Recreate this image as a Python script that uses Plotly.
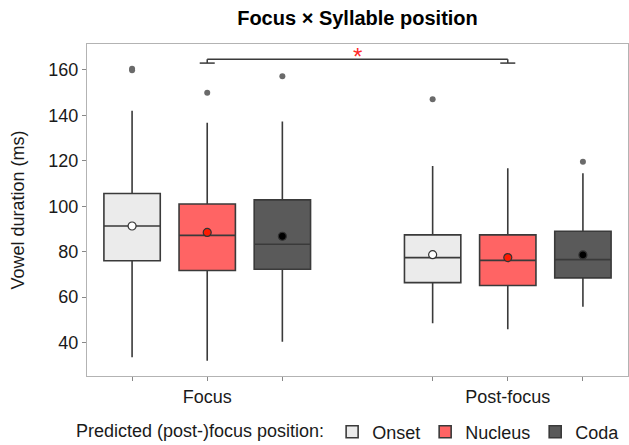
import plotly.graph_objects as go

# ---- data ----
categories = ["Focus", "Post-focus"]
series = ["Onset", "Nucleus", "Coda"]

q1 = {"Onset": [76.0, 66.4], "Nucleus": [71.7, 65.1], "Coda": [72.3, 68.5]}
median = {"Onset": [91.3, 77.4], "Nucleus": [87.2, 76.2], "Coda": [83.3, 76.5]}
q3 = {"Onset": [105.6, 87.4], "Nucleus": [101.0, 87.4], "Coda": [102.8, 89.0]}
lower = {"Onset": [33.5, 48.5], "Nucleus": [32.0, 45.9], "Coda": [40.4, 55.8]}
upper = {"Onset": [142.0, 117.7], "Nucleus": [136.8, 116.7], "Coda": [137.3, 114.5]}
means = {"Onset": [91.3, 78.7], "Nucleus": [88.5, 77.4], "Coda": [86.8, 78.6]}

outlier_x = {"Onset": ["Focus", "Focus", "Post-focus"], "Nucleus": ["Focus"], "Coda": ["Focus", "Post-focus"]}
outlier_y = {"Onset": [160.5, 159.8, 147.1], "Nucleus": [150.0], "Coda": [157.2, 119.6]}

box_fill = {"Onset": "#ebebeb", "Nucleus": "#ff6464", "Coda": "#5a5a5a"}
mean_fill = {"Onset": "#ffffff", "Nucleus": "#ff1a00", "Coda": "#000000"}

sig_y = 164.7
sig_tip = 163.0
sig_label = "*"

FONT = "Liberation Sans, Arial, sans-serif"

fig = go.Figure()

for s in series:
    fig.add_trace(go.Box(
        name=s, x=categories, q1=q1[s], median=median[s], q3=q3[s],
        lowerfence=lower[s], upperfence=upper[s],
        fillcolor=box_fill[s], line=dict(color="#3a3a3a", width=1.6),
        whiskerwidth=0, boxpoints=False, offsetgroup=s,
        legendgroup=s, showlegend=True,
    ))

for s in series:
    fig.add_trace(go.Scatter(
        x=outlier_x[s], y=outlier_y[s], mode="markers", offsetgroup=s,
        marker=dict(color="#6a6a6a", size=6), showlegend=False, legendgroup=s,
        hoverinfo="skip",
    ))
    fig.add_trace(go.Scatter(
        x=categories, y=means[s], mode="markers", offsetgroup=s,
        marker=dict(color=mean_fill[s], size=8, line=dict(color="#333333", width=1.2)),
        showlegend=False, legendgroup=s,
    ))

# invisible trace on overlay axis for ticks at each box position
fig.add_trace(go.Scatter(x=[None], y=[None], xaxis="x2", showlegend=False, hoverinfo="skip"))

# significance bracket between Focus-Nucleus and Post-focus-Nucleus
x_left, x_right = 0.0, 1.0
tip_half = 0.025
for xa, xb, ya, yb in [
    (x_left, x_right, sig_y, sig_y),
    (x_left, x_left, sig_y, sig_tip),
    (x_right, x_right, sig_y, sig_tip),
    (x_left - tip_half, x_left + tip_half, sig_tip, sig_tip),
    (x_right - tip_half, x_right + tip_half, sig_tip, sig_tip),
]:
    fig.add_shape(type="line", xref="x2", yref="y", x0=xa, x1=xb, y0=ya, y1=yb,
                  line=dict(color="#3a3a3a", width=1.5))
fig.add_annotation(x=(x_left + x_right) / 2, y=sig_y, xref="x2", yref="y", text=sig_label,
                   showarrow=False, yanchor="bottom", yshift=-13,
                   font=dict(color="#ff2a2a", size=24, family=FONT))

fig.update_layout(
    width=629, height=445,
    margin=dict(l=87, r=1, t=44, b=69, autoexpand=False),
    paper_bgcolor="white", plot_bgcolor="white",
    boxmode="group", boxgap=0.25, boxgroupgap=0.25,
    scattermode="group", scattergap=0.25,
    font=dict(family=FONT, size=18, color="#1a1a1a"),
    title=dict(text="<b>Focus × Syllable position</b>", xref="paper", x=0.5, xanchor="center",
               yref="container", y=1 - 18 / 445, yanchor="middle",
               font=dict(size=20, color="#000000")),
    xaxis=dict(type="category", range=[-0.4, 1.4], showgrid=False, zeroline=False,
               showline=True, linecolor="#b3b3b3", linewidth=1.3, mirror=True,
               ticks="outside", ticklen=4, tickcolor="#888888",
               tickfont=dict(size=18, color="#1a1a1a")),
    xaxis2=dict(overlaying="x", anchor="y", side="bottom", range=[-0.4, 1.4],
                tickvals=[-0.25, 0.25, 0.75, 1.25], showticklabels=False,
                ticks="outside", ticklen=4, tickcolor="#888888",
                showgrid=False, zeroline=False, showline=False),
    yaxis=dict(range=[25.3, 171.4], tickvals=[40, 60, 80, 100, 120, 140, 160],
               showgrid=False, zeroline=False, showline=True, linecolor="#b3b3b3",
               linewidth=1.3, mirror=True, ticks="outside", ticklen=4, tickcolor="#888888",
               title=dict(text="Vowel duration (ms)", font=dict(size=18), standoff=18),
               tickfont=dict(size=18, color="#1a1a1a")),
    legend=dict(orientation="h", xref="container", x=74 / 629, xanchor="left",
                yref="container", y=13 / 445, yanchor="middle",
                title=dict(text="Predicted (post-)focus position:", side="left",
                           font=dict(size=18)),
                font=dict(size=18), itemwidth=30, traceorder="normal"),
)

fig.write_html("out.html", config={"displayModeBar": False},
               post_script="document.body.style.margin='0';")
